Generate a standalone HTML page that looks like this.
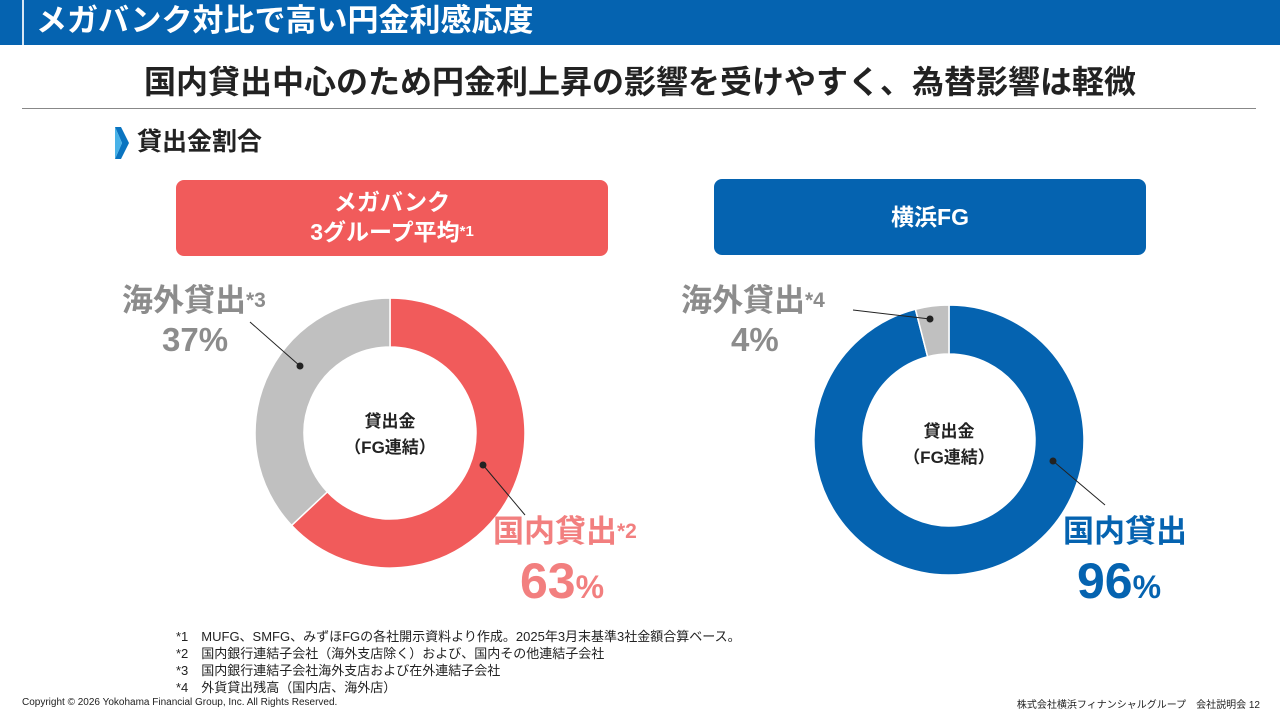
<!DOCTYPE html>
<html><head><meta charset="utf-8"><style>
body{margin:0;width:1280px;height:720px;background:#fff;position:relative;overflow:hidden;font-family:"Liberation Sans","Noto Sans CJK JP",sans-serif}
.a{position:absolute;white-space:nowrap}
</style></head><body>
<div class="a" style="left:0;top:0;width:1280px;height:45px;background:#0563b0"></div>
<div class="a" style="left:22px;top:0;width:2px;height:45px;background:#d8e6f3"></div>
<div class="a" style="left:36px;top:2px;font-size:31px;font-weight:bold;color:#fff;line-height:38px">メガバンク対比で高い円金利感応度</div>
<div class="a" style="left:0;width:1280px;text-align:center;top:61px;font-size:32px;font-weight:bold;color:#222;line-height:42px">国内貸出中心のため円金利上昇の影響を受けやすく、為替影響は軽微</div>
<div class="a" style="left:22px;top:108px;width:1234px;height:1px;background:#888"></div>
<svg class="a" style="left:115px;top:127px" width="16" height="32"><polygon points="0,0 6,0 14,16 6,32 0,32 7,16" fill="#0a74c0"/><polygon points="0,0 7,16 0,32" fill="#48b2e8"/></svg>
<div class="a" style="left:137px;top:125px;font-size:25px;font-weight:bold;color:#222;line-height:34px">貸出金割合</div>
<div class="a" style="left:176px;top:180px;width:432px;height:76px;background:#f15b5b;border-radius:8px;color:#fff;font-weight:bold;font-size:23px;text-align:center;line-height:30px;padding-top:7px;box-sizing:border-box">メガバンク<br>3グループ平均<span style="font-size:15px;vertical-align:top">*1</span></div>
<div class="a" style="left:714px;top:179px;width:432px;height:76px;background:#0563b0;border-radius:8px;color:#fff;font-weight:bold;font-size:23px;text-align:center;line-height:76px">横浜FG</div>
<svg id="chart" class="a" style="left:0;top:0" width="1280" height="720"></svg>
<div class="a" style="left:122px;top:281px;font-size:31px;font-weight:bold;color:#8c8c8c;line-height:40px">海外貸出<span style="font-size:21px;vertical-align:top">*3</span></div>
<div class="a" style="left:162px;top:319px;font-size:33px;font-weight:bold;color:#8c8c8c;line-height:42px">37%</div>
<div class="a" style="left:493px;top:512px;font-size:31px;font-weight:bold;color:#f27f7f;line-height:40px">国内貸出<span style="font-size:21px;vertical-align:top">*2</span></div>
<div class="a" style="left:520px;top:553px;font-size:50px;font-weight:bold;color:#f27f7f;line-height:56px">63<span style="font-size:32px">%</span></div>
<div class="a" style="left:681px;top:281px;font-size:31px;font-weight:bold;color:#8c8c8c;line-height:40px">海外貸出<span style="font-size:21px;vertical-align:top">*4</span></div>
<div class="a" style="left:731px;top:319px;font-size:33px;font-weight:bold;color:#8c8c8c;line-height:42px">4%</div>
<div class="a" style="left:1063px;top:512px;font-size:31px;font-weight:bold;color:#0563b0;line-height:40px">国内貸出</div>
<div class="a" style="left:1077px;top:553px;font-size:50px;font-weight:bold;color:#0563b0;line-height:56px">96<span style="font-size:32px">%</span></div>
<div class="a" style="left:330px;top:409px;width:120px;text-align:center;font-size:17px;font-weight:bold;color:#222;line-height:26px">貸出金<br>（FG連結）</div>
<div class="a" style="left:889px;top:419px;width:120px;text-align:center;font-size:17px;font-weight:bold;color:#222;line-height:26px">貸出金<br>（FG連結）</div>
<div class="a" style="left:176px;top:628px;font-size:13px;color:#222;line-height:17px">*1　MUFG、SMFG、みずほFGの各社開示資料より作成。2025年3月末基準3社金額合算ベース。<br>*2　国内銀行連結子会社（海外支店除く）および、国内その他連結子会社<br>*3　国内銀行連結子会社海外支店および在外連結子会社<br>*4　外貨貸出残高（国内店、海外店）</div>
<div class="a" style="left:22px;top:697px;font-size:10px;color:#222">Copyright © 2026 Yokohama Financial Group, Inc. All Rights Reserved.</div>
<div class="a" style="right:20px;top:696px;font-size:10px;color:#222">株式会社横浜フィナンシャルグループ　会社説明会 12</div>
<script>
const categories=["国内貸出","海外貸出"];
const megabankValues=[63,37];
const yokohamaValues=[96,4];
const megabankColors=["#f15b5b","#c0c0c0"];
const yokohamaColors=["#0563b0","#c0c0c0"];
const NS="http://www.w3.org/2000/svg";
const svg=document.getElementById('chart');
function arc(cx,cy,r0,r1,a0,a1){
  const p=(r,a)=>[cx+r*Math.sin(a),cy-r*Math.cos(a)];
  const L=(a1-a0)>Math.PI?1:0;
  const [x1,y1]=p(r1,a0),[x2,y2]=p(r1,a1),[x3,y3]=p(r0,a1),[x4,y4]=p(r0,a0);
  return `M${x1},${y1}A${r1},${r1} 0 ${L} 1 ${x2},${y2}L${x3},${y3}A${r0},${r0} 0 ${L} 0 ${x4},${y4}Z`;
}
function donut(cx,cy,values,colors,name){
  const tot=values.reduce((a,b)=>a+b,0);let a=0;
  values.forEach((v,i)=>{
    const a1=a+v/tot*2*Math.PI;
    const el=document.createElementNS(NS,'path');
    el.setAttribute('d',arc(cx,cy,86,135,a,a1));
    el.setAttribute('fill',colors[i]);
    el.setAttribute('stroke','#fff');el.setAttribute('stroke-width','1.5');
    
    
    svg.appendChild(el);a=a1;
  });
}
donut(390,433,megabankValues,megabankColors,'megabank');
donut(949,440,yokohamaValues,yokohamaColors,'yokohama');
const leaders=[[300,366,250,322],[483,465,525,515],[930,319,853,310],[1053,461,1105,505]];
leaders.forEach(l=>{
  const ln=document.createElementNS(NS,'line');
  ln.setAttribute('x1',l[0]);ln.setAttribute('y1',l[1]);ln.setAttribute('x2',l[2]);ln.setAttribute('y2',l[3]);
  ln.setAttribute('stroke','#222');ln.setAttribute('stroke-width','1');
  
  
  svg.appendChild(ln);
  const c=document.createElementNS(NS,'circle');
  c.setAttribute('cx',l[0]);c.setAttribute('cy',l[1]);c.setAttribute('r','3.5');c.setAttribute('fill','#222');
  
  
  svg.appendChild(c);
});
</script>
</body></html>
